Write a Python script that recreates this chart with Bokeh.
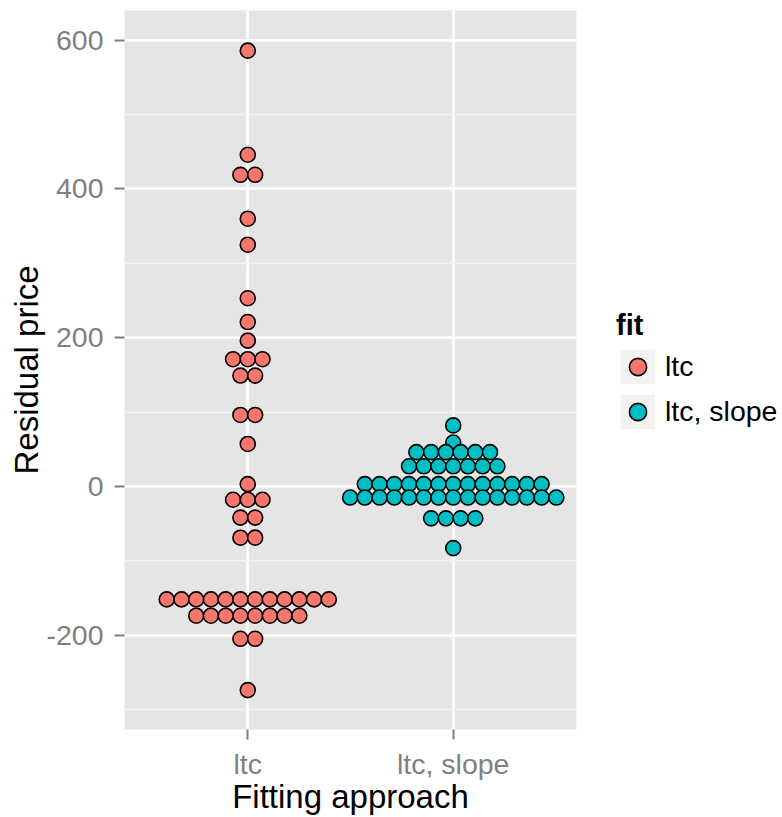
from bokeh.plotting import figure
from bokeh.layouts import row
from bokeh.models import Range1d, FixedTicker, Legend, LegendItem, ColumnDataSource
from bokeh.embed import file_html
from bokeh.resources import INLINE

# ---- data ----
categories = ["ltc", "ltc, slope"]
cat_pos = [1, 2]
ltc_bins = [586, 446, 419, 360, 325, 253, 221, 196, 171, 149, 96, 57, 3,
            -18, -42, -69, -152, -174, -205, -274]
ltc_counts = [1, 1, 2, 1, 1, 1, 1, 1, 3, 2, 2, 1, 1, 3, 2, 2, 12, 8, 2, 1]
slope_bins = [82, 59, 46, 27, 3, -15, -43, -83]
slope_counts = [1, 1, 6, 7, 13, 15, 4, 1]
fill_colors = ["#F8766D", "#00BFC4"]
y_ticks = [-200, 0, 200, 400, 600]
y_minor = [-300, -100, 100, 300, 500]

DOT_STEP = 0.0717  # horizontal distance between stacked dots (x units)


def stack(pos, bins, counts):
    xs, ys = [], []
    for b, n in zip(bins, counts):
        for k in range(n):
            xs.append(pos + (k - (n - 1) / 2) * DOT_STEP)
            ys.append(b)
    return ColumnDataSource(dict(x=xs, y=ys))


FONT = "Liberation Sans"
src_ltc = stack(cat_pos[0], ltc_bins, ltc_counts)
src_slope = stack(cat_pos[1], slope_bins, slope_counts)

p = figure(width=590, height=817,
           x_range=Range1d(0.4, 2.6), y_range=Range1d(-327, 640),
           output_backend="svg", toolbar_location=None,
           min_border_left=124, min_border_right=14,
           min_border_top=10, min_border_bottom=86)

p.background_fill_color = "#E5E5E5"
p.border_fill_color = "white"
p.outline_line_color = None

# grid
p.xgrid.ticker = FixedTicker(ticks=cat_pos)
p.xgrid.grid_line_color = "white"
p.xgrid.grid_line_width = 2.6
p.ygrid.ticker = FixedTicker(ticks=y_ticks, minor_ticks=y_minor)
p.ygrid.grid_line_color = "white"
p.ygrid.grid_line_width = 2.6
p.ygrid.minor_grid_line_color = "#F2F2F2"
p.ygrid.minor_grid_line_width = 1.5

# axes
for ax in (p.xaxis[0], p.yaxis[0]):
    ax.axis_line_color = None
    ax.major_tick_line_color = "#7F7F7F"
    ax.major_tick_line_width = 2
    ax.major_tick_in = 0
    ax.major_tick_out = 10
    ax.minor_tick_line_color = None
    ax.major_label_text_font = FONT
    ax.major_label_text_font_size = "28.5px"
    ax.major_label_text_color = "#7F7F7F"
    ax.axis_label_text_font = FONT
    ax.axis_label_text_font_size = "33px"
    ax.axis_label_text_font_style = "normal"
    ax.axis_label_text_color = "black"

p.xaxis.ticker = FixedTicker(ticks=cat_pos)
p.xaxis.major_label_overrides = {pos: c for pos, c in zip(cat_pos, categories)}
p.xaxis.axis_label = "Fitting approach"
p.xaxis.major_label_standoff = 8
p.xaxis.axis_label_standoff = -5

p.yaxis.ticker = FixedTicker(ticks=y_ticks)
p.yaxis.major_label_overrides = {t: str(t) for t in y_ticks}
p.yaxis.axis_label = "Residual price"
p.yaxis.major_label_standoff = 11
p.yaxis.axis_label_standoff = -2

# dots
dot_style = dict(size=15, line_color="black", line_width=1.6)
p.scatter("x", "y", source=src_ltc, fill_color=fill_colors[0], **dot_style)
p.scatter("x", "y", source=src_slope, fill_color=fill_colors[1], **dot_style)

# ---- legend panel (separate plot to the right, no axes) ----
lg = figure(width=192, height=817, output_backend="svg", toolbar_location=None,
            x_range=Range1d(0, 1), y_range=Range1d(0, 1),
            x_axis_type=None, y_axis_type=None, min_border=0)
lg.grid.visible = False
lg.outline_line_color = None
lg.background_fill_color = "white"
lg.border_fill_color = "white"

key_bg = lg.quad(left=[0], right=[0], top=[0], bottom=[0],
                 fill_color="#F2F2F2", line_color=None, visible=False)
k_ltc = lg.scatter("x", "y", source=src_ltc, fill_color=fill_colors[0],
                   visible=False, **dot_style)
k_slope = lg.scatter("x", "y", source=src_slope, fill_color=fill_colors[1],
                     visible=False, **dot_style)

legend = Legend(items=[
    LegendItem(label=categories[0], renderers=[key_bg, k_ltc]),
    LegendItem(label=categories[1], renderers=[key_bg, k_slope]),
], location=(26, 296))
legend.title = "fit"
legend.title_text_font = FONT
legend.title_text_font_size = "29px"
legend.title_text_font_style = "bold"
legend.title_text_color = "black"
legend.title_standoff = 3
legend.label_text_font = FONT
legend.label_text_font_size = "28.5px"
legend.label_text_color = "black"
legend.label_standoff = 6
legend.label_height = 43
legend.glyph_width = 43
legend.glyph_height = 43
legend.spacing = 2
legend.padding = 0
legend.margin = 0
legend.border_line_color = None
legend.background_fill_alpha = 0
lg.add_layout(legend, "center")

layout = row(p, lg)
open("out.html", "w").write(file_html(layout, INLINE))
